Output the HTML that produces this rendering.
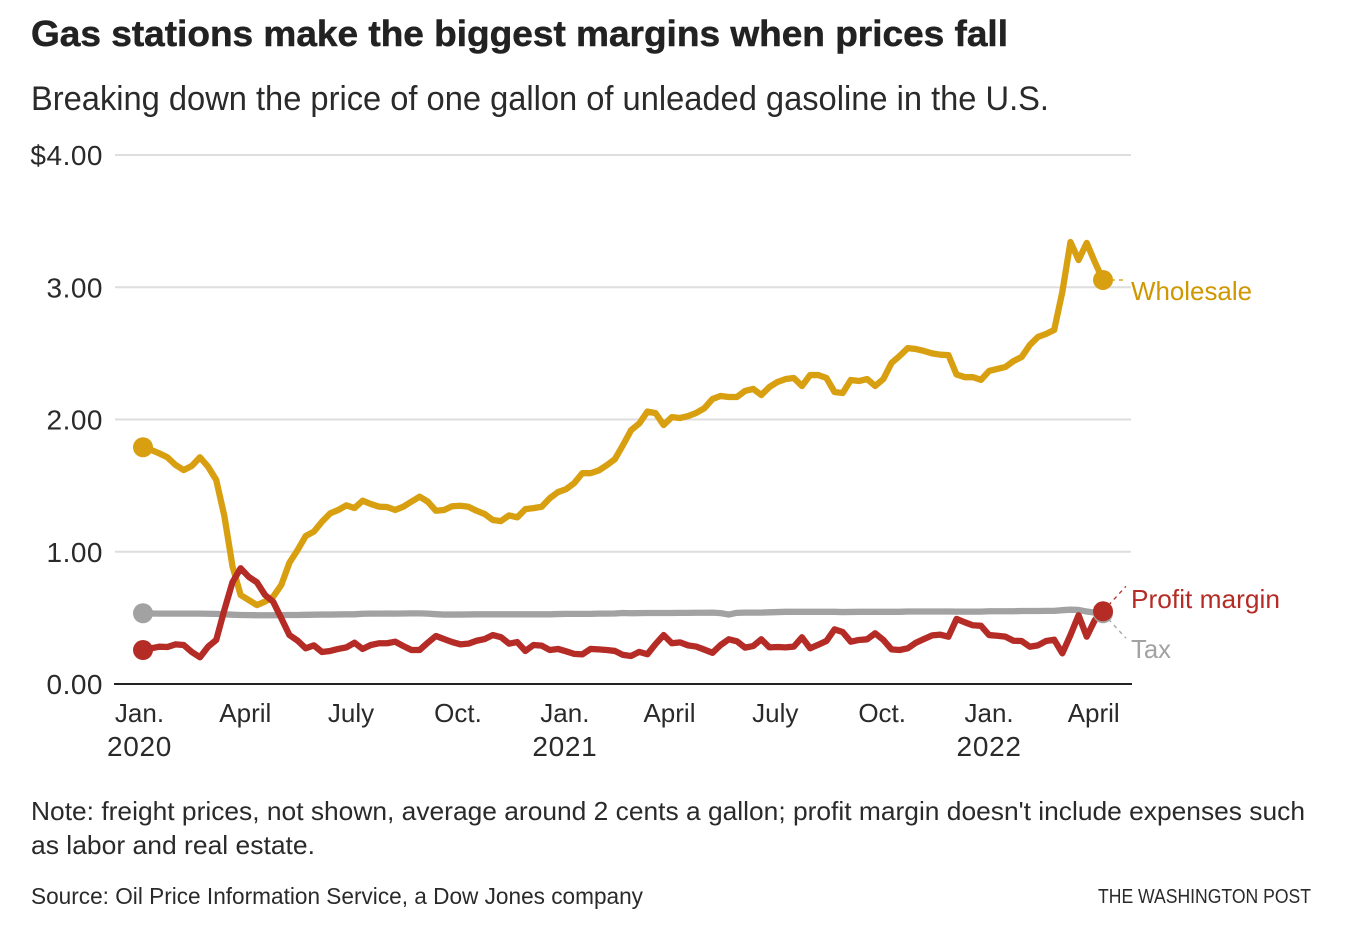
<!DOCTYPE html>
<html lang="en">
<head>
<meta charset="utf-8">
<title>Gas stations make the biggest margins when prices fall</title>
<style>
  html, body { margin: 0; padding: 0; background: #fff; }
  body { width: 1346px; height: 948px; overflow: hidden; }
  svg { display: block; }
  text { font-family: "Liberation Sans", sans-serif; fill: #2a2a2a; }
</style>
</head>
<body>
<svg id="chart" width="1346" height="948" viewBox="0 0 1346 948" xmlns="http://www.w3.org/2000/svg">
  <text x="31" y="46" font-size="36" font-weight="700" textLength="977" lengthAdjust="spacingAndGlyphs" style="fill:#222;stroke:#222;stroke-width:.5">Gas stations make the biggest margins when prices fall</text>
  <text x="31" y="110" font-size="34" textLength="1018" lengthAdjust="spacingAndGlyphs">Breaking down the price of one gallon of unleaded gasoline in the U.S.</text>
  <g id="grid"></g>
  <g id="xaxis"></g>
  <g id="leaders"></g>
  <g id="series"></g>
  <text x="1131" y="300" font-size="26" textLength="121" lengthAdjust="spacingAndGlyphs" style="fill:#cf9700">Wholesale</text>
  <text x="1131" y="608" font-size="26" textLength="149" lengthAdjust="spacingAndGlyphs" style="fill:#b52c26">Profit margin</text>
  <text x="1131" y="658" font-size="26" textLength="40" lengthAdjust="spacingAndGlyphs" style="fill:#a2a2a2">Tax</text>
  <text x="31" y="820" font-size="26" textLength="1274" lengthAdjust="spacingAndGlyphs">Note: freight prices, not shown, average around 2 cents a gallon; profit margin doesn't include expenses such</text>
  <text x="31" y="854" font-size="26" textLength="284" lengthAdjust="spacingAndGlyphs">as labor and real estate.</text>
  <text x="31" y="904" font-size="23" textLength="612" lengthAdjust="spacingAndGlyphs">Source: Oil Price Information Service, a Dow Jones company</text>
  <text x="1098" y="903" font-size="20" textLength="213" lengthAdjust="spacingAndGlyphs">THE WASHINGTON POST</text>
</svg>
<script>
const wholesale = [
  1.79,1.77,1.744,1.714,1.656,1.618,1.649,1.714,1.643,1.543,
  1.27,0.89,0.673,0.635,0.597,0.623,0.66,0.749,0.917,1.013,
  1.119,1.152,1.227,1.29,1.316,1.351,1.331,1.386,1.361,1.341,
  1.338,1.316,1.341,1.379,1.416,1.379,1.31,1.316,1.344,1.348,
  1.34,1.31,1.285,1.24,1.232,1.275,1.26,1.322,1.33,1.34,
  1.405,1.451,1.473,1.519,1.594,1.594,1.614,1.654,1.70,1.807,
  1.92,1.97,2.06,2.048,1.958,2.018,2.011,2.026,2.05,2.085,
  2.155,2.178,2.17,2.17,2.216,2.231,2.185,2.246,2.284,2.306,
  2.314,2.253,2.336,2.336,2.314,2.208,2.2,2.299,2.291,2.306,
  2.253,2.306,2.427,2.48,2.54,2.533,2.518,2.5,2.49,2.487,
  2.34,2.32,2.32,2.30,2.367,2.382,2.397,2.442,2.473,2.563,
  2.624,2.647,2.677,2.964,3.342,3.206,3.335,3.19,3.055
];
const tax = [
  .535,.533,.532,.532,.532,.532,.532,.532,.531,.530,
  .527,.524,.522,.521,.520,.520,.520,.521,.522,.522,
  .523,.524,.525,.525,.526,.527,.527,.531,.532,.532,
  .533,.532,.533,.534,.534,.532,.528,.525,.525,.525,
  .526,.527,.527,.527,.527,.527,.527,.527,.527,.527,
  .527,.529,.530,.530,.530,.530,.532,.532,.533,.537,
  .535,.536,.537,.537,.537,.537,.538,.538,.539,.539,
  .540,.536,.525,.538,.540,.540,.540,.542,.544,.546,
  .546,.546,.546,.546,.546,.546,.544,.545,.546,.546,
  .546,.546,.546,.546,.548,.548,.548,.548,.548,.548,
  .547,.547,.547,.547,.550,.550,.550,.550,.552,.552,
  .552,.553,.553,.558,.562,.560,.548,.540,.535
];
const profit = [
  .257,.27,.282,.28,.30,.295,.242,.202,.282,.333,
  .56,.77,.875,.81,.769,.673,.622,.497,.37,.328,
  .27,.292,.242,.25,.265,.277,.312,.265,.295,.308,
  .308,.32,.287,.257,.257,.312,.363,.34,.317,.30,
  .305,.327,.34,.37,.354,.305,.317,.25,.295,.29,
  .257,.265,.247,.228,.224,.265,.262,.257,.25,.22,
  .212,.243,.225,.302,.37,.308,.315,.292,.283,.26,
  .236,.295,.338,.323,.275,.287,.338,.277,.28,.277,
  .283,.353,.27,.297,.325,.413,.393,.32,.333,.338,
  .383,.333,.262,.257,.27,.312,.34,.368,.373,.358,
  .492,.467,.444,.44,.37,.365,.358,.327,.325,.282,
  .292,.325,.335,.232,.37,.52,.358,.484,.55
];
const yTicks = [0, 1, 2, 3, 4];
const yTickLabels = ["0.00", "1.00", "2.00", "3.00", "$4.00"];
const xTickMonths = ["Jan.", "April", "July", "Oct.", "Jan.", "April", "July", "Oct.", "Jan.", "April"];
const xTickYears = ["2020", "", "", "", "2021", "", "", "", "2022", ""];
const xTickDates = ["2020-01-01", "2020-04-01", "2020-07-01", "2020-10-01", "2021-01-01", "2021-04-01", "2021-07-01", "2021-10-01", "2022-01-01", "2022-04-01"];
const firstWeek = "2020-01-04";
const weekCount = 119;

const NS = "http://www.w3.org/2000/svg";
const DAY = 86400000;
function xScale(days) { return 143 + days * (960 / ((weekCount - 1) * 7)); }
function xWeek(i) { return xScale(i * 7); }
function xDate(s) { return xScale((Date.parse(s) - Date.parse(firstWeek)) / DAY); }
function yScale(v) { return 684 - v * 132.25; }
function make(tag, attrs, parent) {
  const el = document.createElementNS(NS, tag);
  for (const k in attrs) el.setAttribute(k, attrs[k]);
  parent.appendChild(el);
  return el;
}

const grid = document.getElementById("grid");
yTicks.forEach(function (t, i) {
  if (t !== 0) {
    const gridLine = make("line", { x1: 115, x2: 1131, y1: yScale(t), y2: yScale(t), stroke: "#dedede", "stroke-width": 2 }, grid);
    
    
  }
  const yLabel = make("text", { x: 103, y: yScale(t) + 10, "text-anchor": "end", "font-size": 28, "letter-spacing": 0.5 }, grid);
  yLabel.textContent = yTickLabels[i];
  
  
});

const xaxis = document.getElementById("xaxis");
const baseline = make("line", { x1: 114, x2: 1132, y1: yScale(0), y2: yScale(0), stroke: "#222", "stroke-width": 2 }, xaxis);


xTickDates.forEach(function (d, i) {
  const monthLabel = make("text", { x: xDate(d), y: 722, "text-anchor": "middle", "font-size": 26 }, xaxis);
  monthLabel.textContent = xTickMonths[i];
  
  
  if (xTickYears[i]) {
    const yearLabel = make("text", { x: xDate(d), y: 756, "text-anchor": "middle", "font-size": 28, "letter-spacing": 0.7 }, xaxis);
    yearLabel.textContent = xTickYears[i];
    
    
  }
});

const series = document.getElementById("series");
const leaders = document.getElementById("leaders");
function endPoint(values) { return { x: xWeek(values.length - 1), y: yScale(values[values.length - 1]) }; }
function drawLeader(values, color, dx, dy) {
  const p = endPoint(values);
  return make("line", { x1: p.x, y1: p.y, x2: p.x + dx, y2: p.y + dy, stroke: color, "stroke-width": 1.3, "stroke-dasharray": "4 4" }, leaders);
}
const wholesaleLeader = drawLeader(wholesale, "#cf9700", 22, 0);


const profitLeader = drawLeader(profit, "#b52c26", 23, -25);


const taxLeader = drawLeader(tax, "#a2a2a2", 23, 25);



function drawLine(values, color) {
  const pts = values.map(function (v, i) { return xWeek(i).toFixed(2) + "," + yScale(v).toFixed(2); }).join(" ");
  return make("polyline", { points: pts, fill: "none", stroke: color, "stroke-width": 6.3, "stroke-linejoin": "round", "stroke-linecap": "round" }, series);
}
function drawDot(values, i, color) {
  return make("circle", { cx: xWeek(i), cy: yScale(values[i]), r: 10, fill: color }, series);
}
const wholesaleLine = drawLine(wholesale, "#d89f10");


const taxLine = drawLine(tax, "#a2a2a2");


const profitLine = drawLine(profit, "#b52c26");



const wholesaleStart = drawDot(wholesale, 0, "#d89f10");


const taxStart = drawDot(tax, 0, "#a2a2a2");


const profitStart = drawDot(profit, 0, "#b52c26");


const wholesaleEnd = drawDot(wholesale, wholesale.length - 1, "#d89f10");


const taxEnd = drawDot(tax, tax.length - 1, "#a2a2a2");


const profitEnd = drawDot(profit, profit.length - 1, "#b52c26");


</script>
</body>
</html>
